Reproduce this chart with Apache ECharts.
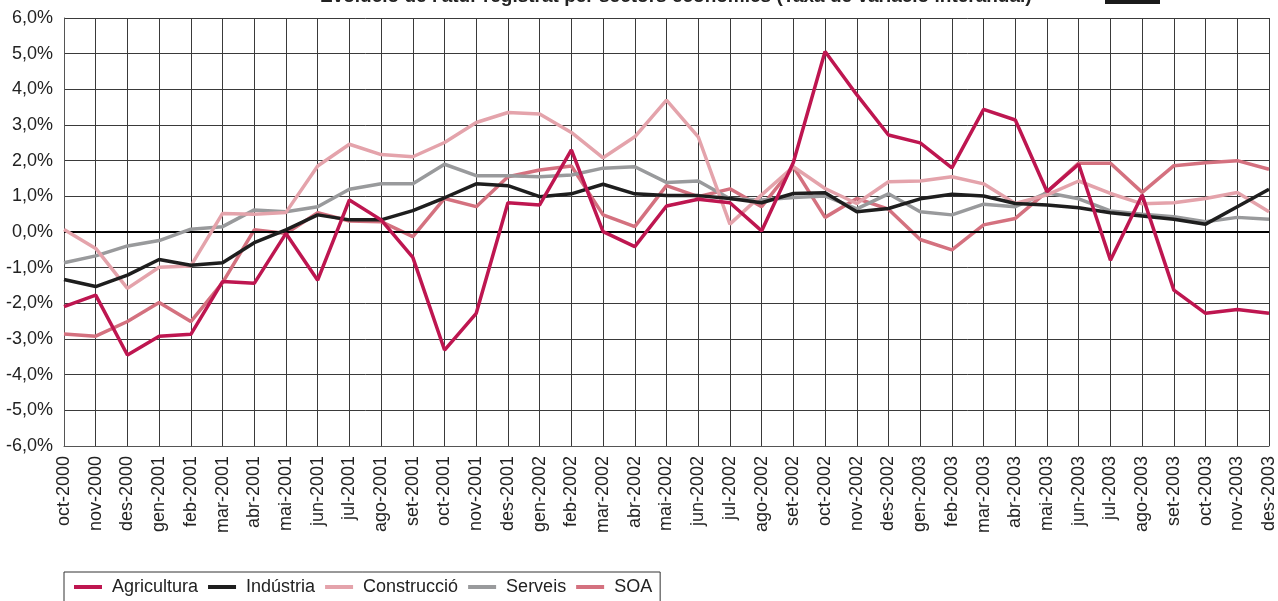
<!DOCTYPE html>
<html>
<head>
<meta charset="utf-8">
<script src="https://cdn.jsdelivr.net/npm/echarts@6/dist/echarts.min.js"></script>
<style>
html,body{margin:0;padding:0;background:#fff;}
#chart{width:1278px;height:601px;}
</style>
</head>
<body>
<div id="chart"></div>
<script>
const categories = ["oct-2000","nov-2000","des-2000","gen-2001","feb-2001","mar-2001","abr-2001","mai-2001","jun-2001","jul-2001","ago-2001","set-2001","oct-2001","nov-2001","des-2001","gen-2002","feb-2002","mar-2002","abr-2002","mai-2002","jun-2002","jul-2002","ago-2002","set-2002","oct-2002","nov-2002","des-2002","gen-2003","feb-2003","mar-2003","abr-2003","mai-2003","jun-2003","jul-2003","ago-2003","set-2003","oct-2003","nov-2003","des-2003"];

const agricultura = [-2.09,-1.77,-3.45,-2.92,-2.87,-1.39,-1.44,-0.04,-1.35,0.90,0.34,-0.71,-3.31,-2.28,0.82,0.76,2.30,0.01,-0.41,0.73,0.92,0.82,0.03,1.95,5.06,3.85,2.72,2.50,1.80,3.44,3.14,1.13,1.90,-0.79,1.04,-1.63,-2.28,-2.17,-2.28];
const industria = [-1.33,-1.53,-1.21,-0.77,-0.93,-0.86,-0.30,0.06,0.48,0.34,0.34,0.60,0.96,1.35,1.30,0.99,1.07,1.34,1.07,1.02,1.02,0.94,0.82,1.08,1.10,0.57,0.66,0.93,1.06,1.01,0.80,0.76,0.68,0.54,0.45,0.36,0.22,0.71,1.20];
const construccio = [0.07,-0.46,-1.58,-0.99,-0.95,0.52,0.50,0.55,1.85,2.46,2.17,2.11,2.51,3.07,3.35,3.31,2.79,2.08,2.67,3.70,2.67,0.22,1.04,1.83,1.22,0.80,1.41,1.43,1.55,1.35,0.80,1.04,1.43,1.08,0.79,0.82,0.94,1.11,0.57];
const serveis = [-0.86,-0.67,-0.39,-0.24,0.08,0.15,0.62,0.57,0.71,1.20,1.35,1.35,1.90,1.58,1.58,1.55,1.60,1.79,1.83,1.39,1.43,0.93,0.90,0.97,1.01,0.65,1.07,0.57,0.48,0.78,0.71,1.10,0.93,0.59,0.50,0.43,0.29,0.41,0.36];
const soa = [-2.86,-2.92,-2.51,-1.98,-2.51,-1.42,0.06,-0.04,0.54,0.31,0.29,-0.13,0.94,0.71,1.55,1.74,1.85,0.48,0.15,1.30,0.99,1.21,0.71,1.83,0.41,0.94,0.64,-0.21,-0.50,0.20,0.38,1.13,1.93,1.93,1.11,1.86,1.94,2.00,1.76];

const seriesNames = ["Agricultura","Indústria","Construcció","Serveis","SOA"];
const seriesColors = ["#be1650","#1e1e1e","#e4a3ab","#999a9c","#d4717f"];
const seriesData = [agricultura, industria, construccio, serveis, soa];

const chart = echarts.init(document.getElementById('chart'), null, {renderer:'canvas'});
const font = 'Arial, "Liberation Sans", Helvetica, sans-serif';

const series = seriesNames.map((name, k) => {
  const s = {
    name: name,
    type: 'line',
    data: seriesData[k],
    symbol: 'none',
    smooth: false,
    lineStyle: {color: seriesColors[k], width: 3.5},
    itemStyle: {color: seriesColors[k]},
    z: 3 + (k === 0 ? 5 : (k === 1 ? 4 : 5 - k)),
    animation: false
  };
  if (k === 1) {
    s.markLine = {
      silent: true,
      symbol: ['none','none'],
      label: {show: false},
      lineStyle: {color: '#000', width: 2, type: 'solid'},
      data: [{yAxis: 0}],
      animation: false
    };
  }
  return s;
});

chart.setOption({
  animation: false,
  backgroundColor: '#ffffff',
  title: {
    text: "Evolució de l'atur registrat per sectors econòmics (Taxa de variació interanual)",
    left: 315,
    top: -18,
    textStyle: {fontFamily: font, fontSize: 19, fontWeight: 'bold', color: '#222'}
  },
  graphic: [{
    type: 'rect',
    shape: {x: 1105, y: 0, width: 55, height: 4},
    style: {fill: '#1a1a1a'}
  }],
  legend: {
    data: seriesNames,
    left: 64,
    top: 572,
    orient: 'horizontal',
    icon: 'rect',
    itemWidth: 28,
    itemHeight: 4,
    itemGap: 10,
    padding: [6, 8, 16, 10],
    borderColor: '#333',
    borderWidth: 1,
    textStyle: {fontFamily: font, fontSize: 18, color: '#222', padding: [0, 0, 0, 5]}
  },
  grid: {left: 64, right: 8, top: 18, bottom: 155, containLabel: false},
  xAxis: {
    type: 'category',
    data: categories,
    boundaryGap: false,
    axisLine: {show: true, onZero: false, lineStyle: {color: '#555', width: 1}},
    axisTick: {show: false},
    axisLabel: {
      rotate: 90,
      interval: 0,
      margin: 10,
      fontFamily: font,
      fontSize: 18,
      color: '#222'
    },
    splitLine: {show: true, interval: 0, lineStyle: {color: '#3a3a3a', width: 1}}
  },
  yAxis: {
    type: 'value',
    min: -6,
    max: 6,
    interval: 1,
    axisLine: {show: true, lineStyle: {color: '#555', width: 1}},
    axisTick: {show: false},
    axisLabel: {
      margin: 11,
      fontFamily: font,
      fontSize: 18,
      color: '#222',
      formatter: v => v.toFixed(1).replace('.', ',') + '%'
    },
    splitLine: {show: true, lineStyle: {color: '#3a3a3a', width: 1}}
  },
  series: series
});
</script>
</body>
</html>
